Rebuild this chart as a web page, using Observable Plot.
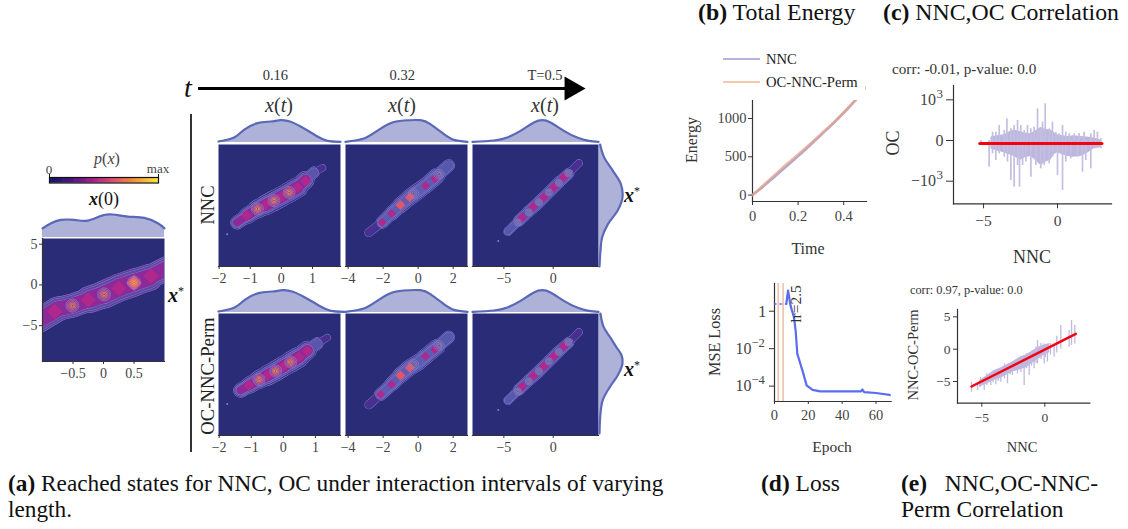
<!DOCTYPE html>
<html><head><meta charset="utf-8">
<script src="https://cdn.jsdelivr.net/npm/d3@7"></script>
<script src="https://cdn.jsdelivr.net/npm/@observablehq/plot@0.6"></script>
<style>
html,body{margin:0;padding:0;background:#fff;width:1128px;height:529px;overflow:hidden;font-family:"Liberation Serif",serif;color:#111}
#page{position:relative;width:1128px;height:529px}
#page svg{position:absolute;overflow:visible;background:transparent}
.t{position:absolute;white-space:nowrap;line-height:1}
</style></head><body><div id="page"></div>
<script>
// ---- data ----
const barStops=["#14146a","#4a1680","#a81f8c","#e2536a","#f79a30","#f8ea40"];
const barValues=d3.range(0,1,0.01);

// ridge of each density panel: [x, y, spread]
const ridgeX0=[[-1.05,-4.3,12],[-.75,-2.95,12],[-.51,-2.54,11],[-.23,-1.79,12],[.01,-1.17,14],[.26,-.33,13],[.5,.29,14],[.75,.92,12],[1.05,2.1,11]];
const ridgeA1=[[-1.42,-1.11,5.5],[-1.10,-.67,7.5],[-.77,-.23,8.5],[-.51,.03,9.5],[-.24,.32,10],[0,.58,9.5],[.25,.86,10],[.52,1.19,10],[.78,1.68,7],[1.05,2.18,3.5],[1.32,2.46,3]];
const ridgeA2=[[-2.82,-1.77,2.5],[-2.06,-1.11,5.5],[-1.52,-.52,6.5],[-1.01,.03,7],[-.48,.54,8],[.04,.97,7.5],[.42,1.30,7.5],[1.09,1.96,7.5],[1.75,2.62,4]];
const ridgeA3=[[-4.6,-1.7,3],[-3.48,-1,5],[-2.47,-.39,5.5],[-1.45,.21,5.5],[-.44,.86,5.5],[.57,1.52,5.5],[1.59,2.11,4.5],[2.6,2.77,2.5]];
const ridgeB1=[[-1.33,-1.04,6.5],[-1.07,-.71,7.5],[-.76,-.34,8.5],[-.5,-.06,9.5],[-.24,.23,10],[0,.54,9.5],[.23,.82,10],[.49,1.15,10],[.75,1.59,8],[1.06,2.03,3.5],[1.37,2.42,3]];
const ridgeB2=[[-2.82,-1.99,2.5],[-2.15,-1.31,5.5],[-1.52,-.65,6.5],[-1.01,-.06,7],[-.48,.45,8],[.04,.82,7.5],[.42,1.19,7.5],[1.09,1.81,7.5],[1.75,2.46,4]];
const ridgeB3=[[-4.6,-1.7,3],[-3.48,-1,5],[-2.47,-.39,5.5],[-1.45,.21,5.5],[-.44,.86,5.5],[.57,1.52,5.5],[1.59,2.11,4.5],[2.6,2.77,2.5]];

// local maxima (rings) and saddle patches (ties) of each panel
const ringsX0=[[-.51,-2.54],[.01,-1.17],[.5,.29]];
const tiesX0=[[-.8,-3.25],[-.25,-1.85],[.25,-.42],[.78,1.1]];
const hotX0=[[.5,.25]];
const ringsA1=[[-.77,-.23],[-.24,.32],[.25,.86]];
const tiesA1=[[-1.12,-.65],[-.51,.05],[0,.58],[.52,1.17],[.78,1.6]];
const ringsA2=[[-.26,.78],[1.2,2.05]];
const tiesA2=[[-2.06,-1.11],[-1.52,-.52],[.42,1.3],[.95,1.75]];
const hotA2=[[-1.01,.03],[-.48,.54]];
const ringsA3=[[-3.58,-1.11],[-2.47,-.45],[-1.45,.21],[-.44,.86],[.57,1.48],[1.52,2.11]];
const tiesA3=[[-3.14,-.78],[-2.03,-.08],[-.95,.54],[.07,1.19],[1.08,1.85]];
const ringsB1=[[-.76,-.34],[-.24,.23],[.23,.82]];
const tiesB1=[[-1.07,-.71],[-.5,-.06],[0,.52],[.49,1.13],[.75,1.55]];
const ringsB2=[[-.26,.65],[1.2,1.9]];
const tiesB2=[[-2.15,-1.31],[-1.52,-.65],[.42,1.19],[.95,1.62]];
const hotB2=[[-1.01,-.06],[-.48,.45]];
const ringsB3=ringsA3, tiesB3=tiesA3;

// marginals: x (or y), height
const margX0=[-1,-.86,-.7,-.48,-.26,-.04,.15,.4,.67,.89,1];
const margX0h=[27,42,52,52,50,64,68,62,58,42,27];
const margA1x=[-2.02,-1.52,-1.2,-.77,-.34,-.02,.3,.73,1.16,1.48,1.9];
const margA1h=[3,15,38,58,63,67,62,42,18,5,2];
const margA2x=[-4.15,-3.1,-2.34,-1.58,-.82,.13,.7,1.47,2.04,2.82];
const margA2h=[2,12,35,58,66,67,55,25,8,2];
const margA3x=[-8.18,-6,-4.66,-3.31,-1.96,-1.11,-.27,1.08,2.43,3.61,4.59];
const margA3h=[2,6,15,35,60,67,60,35,15,5,2];
const margRy=[4,3.17,2.29,1.41,.54,-.33,-1.22,-2.1,-2.96,-4];
const margRh=[2,14,41,66,71,56,26,8,3,0];
const margRy2=[4,3.12,2.47,1.81,1.27,.72,-.05,-.81,-1.69,-2.56,-3.87];
const margRh2=[3,13,33,53,70,73,58,33,10,3,0];

// total energy
const time=[0,.05,.1,.15,.2,.25,.3,.35,.4,.45,.5];
const energyNNC=[0,120,250,380,510,645,785,925,1075,1235,1400];
const energyOC=[0,135,270,405,530,660,795,930,1075,1235,1400];

// loss
const epochDotted=[0,7];
const lossDotted=[2.45,2.45];
const epoch=[7,8,9.5,11.5,12.5,13.5,16.5,19,22.5,27,51,52,53,60,69];
const loss=[2.45,12.7,2,.48,.093,.0053,6.9e-4,1.1e-4,6.3e-5,5.2e-5,5.2e-5,6.6e-5,4.8e-5,4.3e-5,3.3e-5];
const lrEpochs=[2.2,5.1];

// NNC vs OC scatter
const upX=[-4.39,-4.17,-3.94,-3.6,-3.42,-3.15,-2.93,-2.7,-2.48,-2.25,-2.03,-1.8,-1.58,-1.35,-1.17,-1.01,-.83,-.56,-.34,-.11,.11,.34,.56,.79,1.13,1.46,1.8,2.25,2.48,2.7,2.93];
const upV=[3.1,3.1,11.8,4.5,38.6,6.2,11.8,28.8,11.8,4.5,11.8,6.2,8.6,215,6.2,21.5,505,6.2,21.5,3.1,2.1,11.8,3.1,2.1,2.1,2.1,3.1,2.1,4.5,3.1,.33];
const downX=[-5.18,-4.62,-4.39,-4.17,-3.94,-3.6,-3.38,-3.15,-2.93,-2.7,-2.57,-2.36,-2.14,-1.8,-1.46,-1.13,-.9,-.56,-.34,0,.34,.56,.9,1.35,1.69,1.91,2.25,2.59,2.93];
const downV=[1.34,91.6,8.6,28.8,8.6,15.9,38.6,889,2740,68.7,2740,68.7,38.6,505,68.7,122,68.7,51.5,15.9,380,4800,38.6,21.5,15.9,215,28.8,122,3.1,3.1];
const bodyX=[-4.5,-4.1,-3.6,-3.3,-2.93,-2.7,-2.48,-2.2,-1.8,-1.5,-1.13,-.8,-.45,-.2,0,.3,.68,1.1,1.58,2,2.48,2.93];
const bodyUp=[.8,1.2,1.6,3,5,4,3.5,2.6,2.2,4,8,5.5,5,2.6,1.6,1.3,1,1.2,1,.8,.5,.1];
const bodyDown=[3,5,7,10,14,20,28,18,14,28,70,40,26,10,7,10,14,16,14,8,3,2.5];
const redC=[{x:-5.25,y:-.66},{x:3,y:-.66}];

// NNC vs NNC-OC-Perm scatter
const eX=[-5.82,-5.34,-4.81,-4.29,-3.89,-3.49,-2.96,-2.57,-2.17,-1.64,-1.24,-.85,-.58,-.05,.21,.74,1.27,1.93,2.12,2.38,-5.1,-4.6,-4.1,-3.7,-3.2,-2.75,-2.35,-1.9,-1.45,-1.05,-.7,-.3,.05,.45,.95];
const eHi=[-5.1,-5.36,-4.33,-3.81,-3.4,-3.04,-2.53,-2.78,-2.01,-1.5,-1.24,-.21,1.34,.82,.31,.82,3.65,2.9,4.45,3.65,-4.4,-3.8,-3.4,-3.1,-2.3,-2.2,-1.9,-1.1,-.7,-.3,.3,.9,.7,.9,2];
const eLo=[-6.65,-6.39,-6.39,-5.62,-5.5,-5.1,-5.36,-4.07,-3.83,-5.62,-4.07,-3.04,-2.27,-2.27,-2.01,-1.24,.05,.31,.57,.82,-5.9,-5.6,-5.2,-5,-4.6,-3.9,-3.4,-3.6,-3,-2.6,-2.2,-1.6,-1.3,-.9,-.6];
const bodyEx=[-5.2,-4.6,-4,-3.5,-3,-2.5,-2,-1.5,-1,-.5,0,.4];
const bodyEHi=[-4.9,-4.1,-3.3,-2.9,-2.4,-1.9,-1.3,-.9,-.3,.3,.7,.9];
const bodyELo=[-5.9,-5.4,-4.8,-4.5,-4,-3.5,-3.2,-2.9,-2.2,-1.5,-.9,-.5];
const redE=[{x:-5.82,y:-5.77},{x:2.46,y:2.37}];

// arrow
const arrowTicks=[.16,.32,.5];
const arrowLabels=["0.16","0.32","T=0.5"];

// ---- layout helpers ----
const page=document.getElementById("page");
const FONT='"Liberation Serif",serif', GREY="#444", SPINE="#333", LAV="#7f82cf";
function mount(svg,left,top){svg.style.left=left+"px";svg.style.top=top+"px";page.appendChild(svg);}
function txt(s,x,y,o={}){
  const d=document.createElement("div");d.className="t";d.innerHTML=s;
  d.style.left=x+"px";d.style.top=y+"px";
  d.style.fontSize=(o.size||14)+"px";d.style.color=o.color||"#222";
  const tx=o.left?"0":"-50%";
  d.style.transform=`translate(${tx},-50%)`+(o.rot?` rotate(${o.rot}deg)`:"");
  page.appendChild(d);
}
function hline(x,y,w,h,c){const d=document.createElement("div");d.style.cssText=`position:absolute;left:${x}px;top:${y}px;width:${w}px;height:${h}px;background:${c}`;page.appendChild(d);}
const xyOf=a=>a.map(([x,y])=>({x,y}));
const PAL_HOT=["#7f82cf","#a574b8","#d98a70","#f0a040","#f4c44a"];
const PAL_MUTED=["#7f82cf","#9a7cb8","#b8808c"];

function heat(o){
  const {ridge,xd,yd,ticks,x0,y0,w,h,levels,rings=[],ties=[],hot=[],iso,yticks,ringR=6.5,tieR=5,hotR=6,pal=PAL_HOT,ringFill="none"}=o;
  const mb=22,ml=yticks?28:2,mr=2,mt=1;
  const segs=d3.pairs(ridge).map(([a,b])=>({x1:a[0],y1:a[1],x2:b[0],y2:b[1],s:(a[2]+b[2])/2}));
  const marks=[Plot.frame({fill:"#2b2c78"})];
  levels.forEach(([k,col,minS])=>{
    const sub=segs.filter(d=>d.s>=minS);
    marks.push(Plot.link(sub,{x1:"x1",y1:"y1",x2:"x2",y2:"y2",stroke:LAV,strokeWidth:d=>d.s*k*2+.9,strokeLinecap:"round",clip:true}));
    marks.push(Plot.link(sub,{x1:"x1",y1:"y1",x2:"x2",y2:"y2",stroke:col,strokeWidth:d=>d.s*k*2,strokeLinecap:"round",clip:true}));
  });
  marks.push(Plot.dot(xyOf(ties),{x:"x",y:"y",r:tieR,symbol:"diamond2",fill:"#b0288c",clip:true}));
  marks.push(Plot.dot(xyOf(hot),{x:"x",y:"y",r:hotR,symbol:"diamond2",fill:"#e2566c",clip:true}));
  pal.forEach((c,i)=>{marks.push(Plot.dot(xyOf(rings),{x:"x",y:"y",r:ringR*(1-i/pal.length),stroke:c,strokeWidth:.7,fill:i==0?ringFill:"none",clip:true}));});
  marks.push(Plot.frame({anchor:"bottom",stroke:SPINE,strokeWidth:1.2}));
  marks.push(Plot.axisX({ticks,tickSize:3,tickPadding:4,fontSize:14,label:null,tickFormat:d=>String(d).replace("-","−"),stroke:SPINE}));
  if(iso)marks.push(Plot.dot([iso],{x:d=>d[0],y:d=>d[1],r:1,fill:LAV}));
  if(yticks){marks.push(Plot.frame({anchor:"left",stroke:SPINE,strokeWidth:1.2}));
    marks.push(Plot.axisY({ticks:yticks,tickSize:3,tickPadding:2,fontSize:14,label:null,tickFormat:d=>String(d).replace("-","−"),stroke:SPINE}));}
  mount(Plot.plot({width:w+ml+mr,height:h+mb+mt,marginLeft:ml,marginRight:mr,marginTop:mt,marginBottom:mb,
    style:{color:GREY,fontFamily:FONT,background:"transparent",overflow:"visible"},
    x:{domain:xd,label:null},y:{domain:yd,label:null,axis:yticks?undefined:null},marks}),x0-ml,y0-mt);
}
function margTop(xs,hs,xd,x0,base,w,h,maxH){
  const d=xs.map((x,i)=>({x,h:hs[i]}));
  mount(Plot.plot({width:w,height:h,margin:0,x:{domain:xd,axis:null},y:{domain:[0,maxH],axis:null},
    style:{background:"transparent",overflow:"visible"},
    marks:[Plot.areaY(d,{x:"x",y:"h",fill:"#aeb2d9",curve:"natural"}),
           Plot.lineY(d,{x:"x",y:"h",stroke:"#5a68b8",strokeWidth:2.2,curve:"natural"})]}),x0,base-h);
}
function margRight(ys,hs,yd,x0,y0,w,h,maxH){
  const d=ys.map((y,i)=>({y,h:hs[i]}));
  mount(Plot.plot({width:w,height:h,margin:0,x:{domain:[0,maxH],axis:null},y:{domain:yd,axis:null},
    style:{background:"transparent",overflow:"visible"},
    marks:[Plot.areaX(d,{y:"y",x:"h",fill:"#aeb2d9",curve:"catmull-rom"}),
           Plot.lineX(d,{y:"y",x:"h",stroke:"#5a68b8",strokeWidth:2.2,curve:"catmull-rom"})]}),x0,y0);
}
const Y4=[-4,4];
const LV1=[[1,"#47308f",0],[.82,"#5a55ab",5],[.62,"#8b2a98",6.5]];
const LV2=[[1,"#47308f",0],[.82,"#5658ae",5],[.6,"#5f5bb2",6]];
const LV3=[[1,"#4a2e90",0],[.8,"#5658ae",4]];
const LV0=[[1,"#6a3a9e",0],[.85,"#5a4aa5",0],[.65,"#8b2a98",0]];

// ---- panel (a) ----
heat({ridge:ridgeX0,xd:[-1,1],yd:[-9.4,5.7],ticks:[-.5,0,.5],x0:41.7,y0:238,w:122,h:123,levels:LV0,rings:ringsX0,ties:tiesX0,hot:hotX0,yticks:[-5,0,5],ringR:6.5,tieR:7,hotR:7,ringFill:"none"});
margTop(margX0,margX0h,[-1,1],41.7,237.3,122,23,68);

const dxA=[[-2.02,1.9],[-4.15,2.82],[-8.18,4.59]],dxB=[[-2.02,1.78],[-4.15,2.82],[-8.18,4.59]];
const tk=[[-2,-1,0,1],[-4,-2,0,2],[-5,0]];
const colX=[218,345,472],colW=[122,122,126];
const rowsCfg=[
 {y0:144,dx:dxA,cols:[
  {ridge:ridgeA1,levels:LV1,rings:ringsA1,ties:tiesA1,iso:[-1.74,-1.88],ringR:6},
  {ridge:ridgeA2,levels:LV2,rings:ringsA2,ties:tiesA2,hot:hotA2,ringR:5,tieR:4,hotR:4.5,pal:PAL_MUTED},
  {ridge:ridgeA3,levels:LV3,rings:ringsA3,ties:tiesA3,ringR:3.5,tieR:4.5,iso:[-5.57,-2.32],pal:PAL_MUTED}],rh:margRh,ry:margRy,rm:71},
 {y0:313.3,dx:dxB,cols:[
  {ridge:ridgeB1,levels:LV1,rings:ringsB1,ties:tiesB1,iso:[-1.75,-1.94],ringR:6},
  {ridge:ridgeB2,levels:LV2,rings:ringsB2,ties:tiesB2,hot:hotB2,ringR:5,tieR:4,hotR:4.5,pal:PAL_MUTED},
  {ridge:ridgeB3,levels:LV3,rings:ringsB3,ties:tiesB3,ringR:3.5,tieR:4.5,iso:[-5.57,-2.32],pal:PAL_MUTED}],rh:margRh2,ry:margRy2,rm:73}];
rowsCfg.forEach(R=>{
  R.cols.forEach((C,c)=>heat({...C,xd:R.dx[c],yd:Y4,ticks:tk[c],x0:colX[c],y0:R.y0,w:colW[c],h:122}));
  const base=R.y0-1.7;
  margTop(margA1x,margA1h,R.dx[0],colX[0],base,colW[0],23,69);
  margTop(margA2x,margA2h,R.dx[1],colX[1],base,colW[1],23,69);
  margTop(margA3x,margA3h,R.dx[2],colX[2],base,colW[2],23,69);
  margRight(R.ry,R.rh,Y4,599,R.y0,23,122,R.rm);
});

// colour bar
mount(Plot.plot({width:109,height:5.5,margin:0,x:{domain:[0,1],axis:null},
  color:{type:"linear",domain:[0,1],interpolate:d3.piecewise(d3.interpolateRgb,barStops)},
  style:{background:"transparent",overflow:"visible"},
  marks:[Plot.rect(barValues,{x1:d=>d,x2:d=>d+.016,fill:d=>d}),Plot.frame({stroke:"#111",strokeWidth:1.2})]}),49,176.5);
hline(48.5,173.5,1,3,"#111");hline(157.5,173.5,1,3,"#111");

// time arrow
mount(Plot.plot({width:389,height:40,margin:0,x:{domain:[.063,.5536],axis:null},y:{domain:[-1,1],axis:null},
  style:{background:"transparent",overflow:"visible",fontFamily:FONT,color:"#333"},
  marks:[Plot.ruleY([0],{x1:()=>.063,x2:()=>.53,stroke:"#000",strokeWidth:3}),
         Plot.dot([.5335],{x:d=>d,y:()=>0,symbol:"triangle",rotate:90,r:9,fill:"#000"}),
         Plot.text(arrowTicks,{x:d=>d,y:()=>0,text:(d,i)=>arrowLabels[i],dy:-13,fontSize:14.5})]}),198,67.5);
hline(190,114,2,338,"#333");

// ---- panel (b) energy ----
const eD=s=>time.map((t,i)=>({t,v:s[i]}));
mount(Plot.plot({width:114+40,height:101+25,marginLeft:40,marginRight:0,marginTop:0,marginBottom:25,
  style:{color:GREY,fontFamily:FONT,background:"transparent",overflow:"visible"},
  x:{domain:[0,.5],label:null},y:{domain:[-84,1235],label:null},
  marks:[Plot.frame({anchor:"left",stroke:SPINE,strokeWidth:1.2}),Plot.frame({anchor:"bottom",stroke:SPINE,strokeWidth:1.2}),
    Plot.axisX({ticks:[0,.2,.4],tickSize:4,tickPadding:5,fontSize:14.5,label:null,tickFormat:d=>String(d),stroke:SPINE}),
    Plot.axisY({ticks:[0,500,1000],tickSize:4,tickPadding:2,fontSize:14.5,label:null,tickFormat:d=>String(d),stroke:SPINE}),
    Plot.line(eD(energyNNC),{x:"t",y:"v",stroke:"#8b7fc6",strokeWidth:2.6,strokeOpacity:.7,curve:"monotone-x",clip:true}),
    Plot.line(eD(energyOC),{x:"t",y:"v",stroke:"#e8a584",strokeWidth:2.6,strokeOpacity:.7,curve:"monotone-x",clip:true})]}),752-40,100);
hline(723,58,37,2.4,"#b8b2de");hline(723,80.5,37,2.4,"#f3c8ad");
hline(865,86,1,4,"#f3c8ad");

// ---- panel (d) loss ----
const decadeTicks=[.01,.0001], decadeExp=["−2","−4"];
mount(Plot.plot({width:116.7+40,height:118+25,marginLeft:40,marginRight:0,marginTop:0,marginBottom:25,
  style:{color:GREY,fontFamily:FONT,background:"transparent",overflow:"visible"},
  x:{domain:[0,69],label:null},y:{type:"log",domain:[Math.pow(10,-4.82),Math.pow(10,1.48)],label:null},
  marks:[
    Plot.ruleX(lrEpochs,{stroke:"#eec8b4",strokeWidth:1.8}),
    Plot.frame({anchor:"left",stroke:SPINE,strokeWidth:1.2}),Plot.frame({anchor:"bottom",stroke:SPINE,strokeWidth:1.2}),
    Plot.axisX({ticks:[0,20,40,60],tickSize:3,tickPadding:5,fontSize:14.5,label:null,tickFormat:d=>String(d),stroke:SPINE}),
    Plot.axisY({ticks:[1,.01,.0001],tickSize:5,tickPadding:3,fontSize:17,label:null,tickFormat:d=>d===1?"1":"",stroke:SPINE}),
    Plot.text(decadeTicks,{x:()=>0,y:d=>d,text:()=>"10",dx:-23,textAnchor:"end",fontSize:16,fill:GREY}),
    Plot.text(decadeTicks,{x:()=>0,y:d=>d,text:(d,i)=>decadeExp[i],dx:-23,dy:-6,textAnchor:"start",fontSize:12.5,fill:GREY}),
    Plot.line(epochDotted.map((e,i)=>({e,v:lossDotted[i]})),{x:"e",y:"v",stroke:"#5a6cf0",strokeWidth:1.5,strokeDasharray:"1.5 4"}),
    Plot.line(epoch.map((e,i)=>({e,v:loss[i]})),{x:"e",y:"v",stroke:"#5a6cf0",strokeWidth:2.2,clip:true})]}),774-40,283);
txt("lr=2.5",795.7,304,{size:15.5,rot:-90,color:"#333"});

// ---- panel (c) ----
const bodyC=bodyX.map((x,i)=>({x,u:bodyUp[i],d:-bodyDown[i]}));
const symTicks=[-1000,1000];
mount(Plot.plot({width:158+50,height:118.3+30,marginLeft:50,marginRight:0,marginTop:0,marginBottom:30,
  style:{color:GREY,fontFamily:FONT,background:"transparent",overflow:"visible"},
  x:{domain:[-7.03,3.65],label:null},y:{type:"symlog",domain:[-46630,11380],label:null},
  marks:[
    Plot.areaY(bodyC,{x:"x",y1:"d",y2:"u",fill:"#bdb6dd"}),
    Plot.ruleX(upX.map((x,i)=>({x,v:upV[i]})),{x:"x",y1:()=>0,y2:"v",stroke:"#c4bee2",strokeWidth:1.7}),
    Plot.ruleX(downX.map((x,i)=>({x,v:-downV[i]})),{x:"x",y1:()=>0,y2:"v",stroke:"#c4bee2",strokeWidth:1.7}),
    Plot.line(redC,{x:"x",y:"y",stroke:"#f5000f",strokeWidth:3.2}),
    Plot.frame({anchor:"left",stroke:SPINE,strokeWidth:1.2}),Plot.frame({anchor:"bottom",stroke:SPINE,strokeWidth:1.2}),
    Plot.axisX({ticks:[-5,0],tickSize:5,tickPadding:6,fontSize:15.5,label:null,tickFormat:d=>d<0?"−5":"0",stroke:SPINE}),
    Plot.axisY({ticks:[-1000,0,1000],tickSize:7,tickPadding:3,fontSize:16,label:null,tickFormat:d=>d==0?"0":"",stroke:SPINE}),
    Plot.text(symTicks,{x:()=>-7.03,y:d=>d,text:d=>d<0?"−10":"10",dx:-17.5,textAnchor:"end",fontSize:16,fill:GREY}),
    Plot.text(symTicks,{x:()=>-7.03,y:d=>d,text:()=>"3",dx:-17,dy:-6,textAnchor:"start",fontSize:13,fill:GREY})]}),952.7-50,85);

// ---- panel (e) ----
const bodyE=bodyEx.map((x,i)=>({x,u:bodyEHi[i],d:bodyELo[i]}));
mount(Plot.plot({width:132.3+50,height:93.7+30,marginLeft:50,marginRight:0,marginTop:0,marginBottom:30,
  style:{color:GREY,fontFamily:FONT,background:"transparent",overflow:"visible"},
  x:{domain:[-6.93,3.57],label:null},y:{domain:[-8.35,6.14],label:null},
  marks:[
    Plot.areaY(bodyE,{x:"x",y1:"d",y2:"u",fill:"#bdb6dd"}),
    Plot.ruleX(eX.map((x,i)=>({x,a:eLo[i],b:eHi[i]})),{x:"x",y1:"a",y2:"b",stroke:"#c0b9e0",strokeWidth:1.3}),
    Plot.line(redE,{x:"x",y:"y",stroke:"#f5000f",strokeWidth:2.4}),
    Plot.frame({anchor:"left",stroke:SPINE,strokeWidth:1.2}),Plot.frame({anchor:"bottom",stroke:SPINE,strokeWidth:1.2}),
    Plot.axisX({ticks:[-5,0],tickSize:4,tickPadding:5,fontSize:13.5,label:null,tickFormat:d=>d<0?"−5":"0",stroke:SPINE}),
    Plot.axisY({ticks:[-5,0,5],tickSize:4,tickPadding:3,fontSize:13.5,label:null,tickFormat:d=>d<0?"−5":String(d),stroke:SPINE})]}),956.7-50,309);

// ---- text ----
txt("<b>(b)</b> Total Energy",698,13,{size:23.8,left:1,color:"#111"});
txt("<b>(c)</b> NNC,OC Correlation",883,13,{size:23.8,left:1,color:"#111"});
txt("<b>(a)</b> Reached states for NNC, OC under interaction intervals of varying",8,484,{size:23.3,left:1,color:"#111"});
txt("length.",8,510,{size:23.3,left:1,color:"#111"});
txt("<b>(d)</b> Loss",761,484,{size:23.5,left:1,color:"#111"});
txt("<b>(e)</b> &nbsp; NNC,OC-NNC-",901,484,{size:23.5,left:1,color:"#111"});
txt("Perm Correlation",901,510,{size:23.5,left:1,color:"#111"});
txt("corr: -0.01, p-value: 0.0",892,69,{size:15.2,left:1,color:"#333"});
txt("corr: 0.97, p-value: 0.0",910,290,{size:12.3,left:1,color:"#333"});
txt("NNC",766,59,{size:14.6,left:1});txt("OC-NNC-Perm",766,82,{size:14.6,left:1});
txt("Time",808,249,{size:16,color:"#333"});txt("Energy",692,140,{size:16,rot:-90,color:"#333"});
txt("Epoch",832,447,{size:15.5,color:"#333"});txt("MSE Loss",715,342,{size:16.2,rot:-90,color:"#333"});
txt("NNC",1032,257,{size:18,color:"#333"});txt("OC",893,143,{size:18,rot:-90,color:"#333"});
txt("NNC",1022,447,{size:14.5,color:"#333"});txt("NNC-OC-Perm",913,355,{size:14.5,rot:-90,color:"#333"});
txt("NNC",208,205,{size:18.5,rot:-90,color:"#222"});txt("OC-NNC-Perm",208,376,{size:18.7,rot:-90,color:"#222"});
txt("<i>t</i>",188,88,{size:28,color:"#111"});
[279,402,545].forEach(x=>txt("<i>x</i>(<i>t</i>)",x,105,{size:20,color:"#333"}));
txt("<b><i>x</i></b>(0)",104,199,{size:18,color:"#111"});
txt("<i>p</i>(<i>x</i>)",107,159,{size:16,color:"#444"});
txt("0",49,169,{size:13,color:"#444"});txt("max",158,168,{size:13,color:"#444"});
[[176,295],[632,195],[632,369]].forEach(([x,y])=>txt("<b><i>x</i></b><sup style='font-size:60%'>*</sup>",x,y,{size:20,color:"#111"}));
</script></body></html>
